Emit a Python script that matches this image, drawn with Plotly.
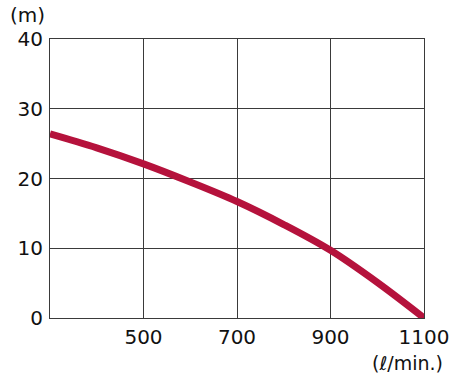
import plotly.graph_objects as go

flow = [300, 400, 500, 600, 700, 800, 900, 1000, 1100]
head = [26.4, 24.4, 22.1, 19.5, 16.7, 13.4, 9.7, 5.1, 0]
x_ticks = [300, 500, 700, 900, 1100]
x_tick_labels = ["", "500", "700", "900", "1100"]
y_ticks = [0, 10, 20, 30, 40]

fig = go.Figure()
fig.add_trace(go.Scatter(x=flow, y=head, mode="lines",
                         line=dict(color="#b5123c", width=7, shape="spline"),
                         hoverinfo="skip"))

grid = "#3a3a3a"
fig.update_layout(
    width=450, height=376, autosize=False,
    margin=dict(l=50, r=26, t=39, b=58),
    paper_bgcolor="white", plot_bgcolor="white",
    showlegend=False,
    font=dict(family="DejaVu Sans, Liberation Sans, sans-serif", size=20, color="#111"),
    xaxis=dict(range=[300, 1100], tickvals=x_ticks, ticktext=x_tick_labels,
               showgrid=True, gridcolor=grid, gridwidth=1,
               showline=True, linecolor=grid, linewidth=1, mirror=True,
               zeroline=False, ticks="", ticklen=0, ticklabelstandoff=1,
               ticklabeloverflow="allow", automargin=False),
    yaxis=dict(range=[0, 40], tickvals=y_ticks,
               showgrid=True, gridcolor=grid, gridwidth=1,
               showline=True, linecolor=grid, linewidth=1, mirror=True,
               zeroline=False, ticks="", ticklen=0, ticklabelstandoff=2,
               automargin=False),
    annotations=[
        dict(text="(m)", xref="paper", yref="paper", x=-0.1123, y=1.0, yshift=24,
             xanchor="left", yanchor="middle", showarrow=False, font=dict(size=20)),
        dict(text="(ℓ/min.)", xref="paper", yref="paper", x=1.056, y=0, yshift=-45,
             xanchor="right", yanchor="middle", showarrow=False, font=dict(size=19)),
    ],
)
fig.write_html("out.html",
               config={"responsive": False, "displayModeBar": False},
               post_script="document.body.style.margin='0';")
